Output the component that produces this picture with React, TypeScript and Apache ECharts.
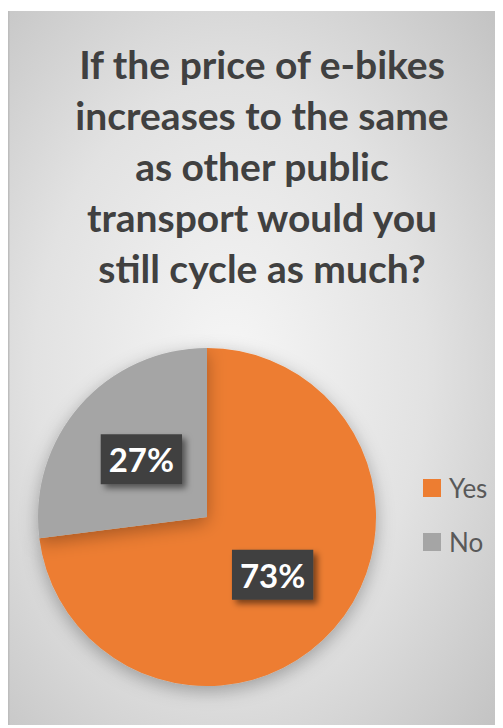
import React, { useEffect, useRef } from "react";
import * as echarts from "echarts";

const titleLines = ["If the price of e-bikes", "increases to the same", "as other public", "transport would you", "still cycle as much?"];
const categories = ["Yes", "No"];
const values = [73, 27];
const colors = ["#ED7D31", "#A5A5A5"];

export default function App() {
  const ref = useRef<HTMLDivElement>(null);
  useEffect(() => {
    if (!ref.current) return;
    const chart = echarts.init(ref.current, undefined, { renderer: "svg" });
    chart.setOption({
      animation: false,
      backgroundColor: {
        type: "radial",
        x: 0.45,
        y: 0.5,
        r: 0.72,
        colorStops: [
          { offset: 0, color: "#f6f6f6" },
          { offset: 0.55, color: "#e2e2e2" },
          { offset: 1, color: "#c4c4c4" },
        ],
      },
      graphic: [
        {
          type: "rect",
          left: 0,
          top: 0,
          shape: { width: 1.5, height: 717 },
          style: { fill: "#bdbdbd" },
          silent: true,
        },
      ],
      title: {
        text: titleLines.join("\n"),
        left: 254,
        textAlign: "center",
        top: 27,
        padding: 0,
        textStyle: {
          fontFamily: "Lato",
          fontWeight: "bold",
          fontSize: 39,
          lineHeight: 51,
          color: "#404040",
        },
      },
      legend: {
        orient: "vertical",
        left: 410,
        top: 459,
        itemWidth: 18,
        itemHeight: 18,
        itemGap: 28,
        icon: "rect",
        data: categories,
        textStyle: {
          fontFamily: "Lato",
          fontSize: 26,
          lineHeight: 26,
          color: "#595959",
          padding: [0, 0, 0, 3],
        },
      },
      series: [
        {
          type: "pie",
          center: [199, 506],
          radius: [0, 169],
          startAngle: 90,
          clockwise: true,
          itemStyle: {
            shadowBlur: 18,
            shadowColor: "rgba(0,0,0,0.3)",
            shadowOffsetY: 5,
          },
          label: {
            show: true,
            position: "inside",
            formatter: "{c}%",
            fontFamily: "Lato",
            fontWeight: "bold",
            fontSize: 33,
            color: "#ffffff",
            backgroundColor: "#414141",
            padding: [9, 8, 8, 8],
            shadowBlur: 6,
            shadowColor: "rgba(0,0,0,0.5)",
            shadowOffsetX: 4,
            shadowOffsetY: 4,
          },
          labelLine: { show: false },
          emphasis: { disabled: true },
          data: categories.map((c, i) => ({
            name: c,
            value: values[i],
            itemStyle: { color: colors[i] },
          })),
        },
      ],
    });
    return () => chart.dispose();
  }, []);
  return <div ref={ref} style={{ position: "relative", top: 3, width: 495, height: 717 }} />;
}
